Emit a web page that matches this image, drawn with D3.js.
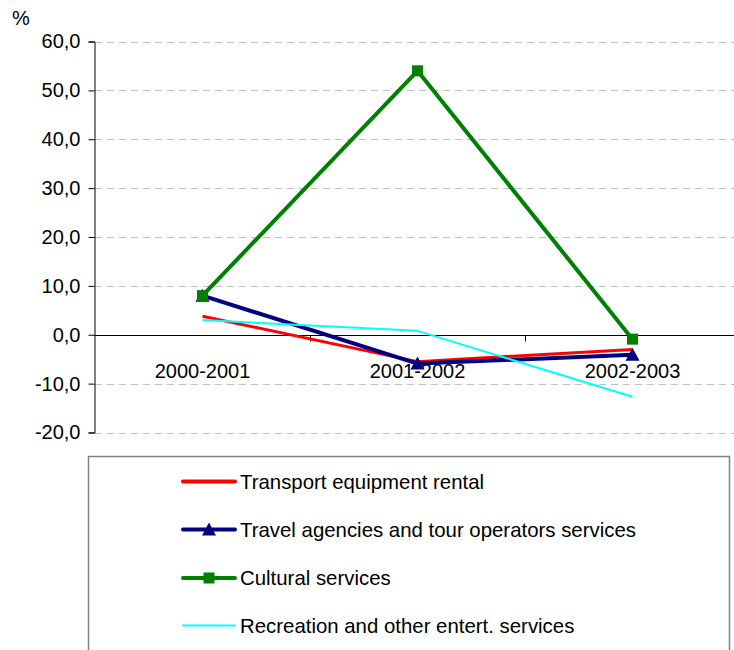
<!DOCTYPE html>
<html><head><meta charset="utf-8">
<script src="https://cdn.jsdelivr.net/npm/d3@7"></script>
<style>
html,body{margin:0;padding:0;background:#fff;}
svg{display:block;font-family:"Liberation Sans",Arial,sans-serif;}
</style></head>
<body><svg id="c" width="734" height="650"></svg>
<script>
const categories = ["2000-2001","2001-2002","2002-2003"];
const seriesNames = ["Transport equipment rental","Travel agencies and tour operators services","Cultural services","Recreation and other entert. services"];
const transportRental = [3.8, -5.5, -3.0];
const travelAgencies = [8.0, -5.9, -4.1];
const culturalServices = [8.0, 54.0, -0.9];
const recreationServices = [3.0, 0.8, -12.7];
const yTicks = [-20, -10, 0, 10, 20, 30, 40, 50, 60];

const seriesStyle = [
  {values: transportRental, color:"#ff0000", width:3, marker:null},
  {values: travelAgencies, color:"#000080", width:4, marker:"triangle"},
  {values: culturalServices, color:"#008000", width:4, marker:"square"},
  {values: recreationServices, color:"#00ffff", width:2, marker:null}
];

const svg = d3.select("#c");
const x = d3.scaleBand().domain(categories).range([95, 740]).padding(0);
const cx = c => x(c) + x.bandwidth()/2;
const y = d3.scaleLinear().domain([-20, 60]).range([432.5, 41.5]);
const fmt = v => d3.format(".1f")(v).replace(".", ",").replace("\u2212", "-");

// gridlines
svg.append("g").selectAll("line").data(yTicks.filter(v => v !== 0)).join("line")
  .attr("x1", 95).attr("x2", 734)
  .attr("y1", d => Math.round(y(d)) + 0.5).attr("y2", d => Math.round(y(d)) + 0.5)
  .attr("stroke", "#c0c0c0").attr("stroke-width", 1).attr("stroke-dasharray", "7,5");

// y axis
const yAxis = d3.axisLeft(y).tickValues(yTicks).tickSize(6).tickPadding(8).tickFormat(fmt);
const gy = svg.append("g").attr("transform", "translate(94.5,0)").call(yAxis);
gy.select(".domain").attr("stroke", "#000");
gy.selectAll(".tick line").attr("stroke", "#000");
gy.selectAll(".tick text").attr("font-size", "20px").attr("fill", "#000")
  .attr("font-family", "Liberation Sans, Arial, sans-serif").attr("x", -14);

// zero line (category axis)
const y0 = Math.round(y(0)) + 0.5;
svg.append("line").attr("x1", 94.5).attr("x2", 734).attr("y1", y0).attr("y2", y0)
  .attr("stroke", "#000").attr("stroke-width", 1);
// category tick marks at band boundaries
svg.append("g").selectAll("line").data(categories.slice(1)).join("line")
  .attr("x1", d => Math.round(x(d)) + 0.5).attr("x2", d => Math.round(x(d)) + 0.5)
  .attr("y1", y0).attr("y2", y0 + 6).attr("stroke", "#000");
// category labels
svg.append("g").selectAll("text").data(categories).join("text")
  .attr("x", d => cx(d)).attr("y", y0 + 42)
  .attr("text-anchor", "middle").attr("font-size", "20px").attr("fill", "#000")
  .text(d => d);

// % label
svg.append("text").attr("x", 12).attr("y", 25).attr("font-size", "20px").attr("fill", "#000").text("%");

// series
const line = d3.line().x((d, i) => cx(categories[i])).y(d => y(d));
function drawMarker(g, type, px, py, color) {
  if (type === "square") {
    g.append("rect").attr("x", px - 5.5).attr("y", py - 5.5).attr("width", 11).attr("height", 11).attr("fill", color);
  } else if (type === "triangle") {
    g.append("path").attr("d", `M${px},${py - 7}L${px + 7},${py + 6}L${px - 7},${py + 6}Z`).attr("fill", color);
  }
}
seriesStyle.forEach(s => {
  const g = svg.append("g");
  g.append("path").datum(s.values).attr("d", line).attr("fill", "none")
    .attr("stroke", s.color).attr("stroke-width", s.width).attr("stroke-linejoin", "round");
  if (s.marker) s.values.forEach((v, i) => drawMarker(g, s.marker, cx(categories[i]), y(v), s.color));
});

// legend
const lg = svg.append("g");
lg.append("rect").attr("x", 88.5).attr("y", 456.5).attr("width", 641).attr("height", 220)
  .attr("fill", "#fff").attr("stroke", "#808080").attr("stroke-width", 1.5);
const legendRows = [481.5, 529.5, 578, 625.5];
seriesStyle.forEach((s, i) => {
  const ly = legendRows[i];
  lg.append("line").attr("x1", 183).attr("x2", 235).attr("y1", ly).attr("y2", ly)
    .attr("stroke", s.color).attr("stroke-width", s.width === 2 ? 2 : 4).attr("stroke-linecap", "round");
  if (s.marker) drawMarker(lg, s.marker, 209, ly, s.color);
  lg.append("text").attr("x", 240).attr("y", ly).attr("dy", "0.35em")
    .attr("font-size", "20.4px").attr("fill", "#000").text(seriesNames[i]);
});
</script></body></html>
